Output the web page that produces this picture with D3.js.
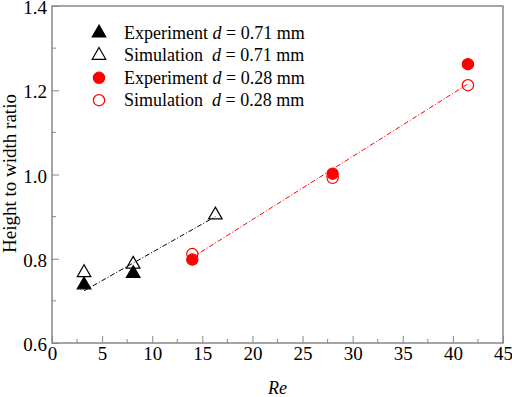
<!DOCTYPE html>
<html>
<head>
<meta charset="utf-8">
<script src="https://cdn.jsdelivr.net/npm/d3@7"></script>
<style>
  body { margin: 0; background: #fff; }
  svg text { font-family: "Liberation Serif", "DejaVu Serif", serif; }
</style>
</head>
<body>
<div id="chart"></div>
<script>
// data
var expBigRe = [3.2, 8.1];
var expBigVal = [0.738, 0.765];
var simBigRe = [3.2, 8.1, 16.3];
var simBigVal = [0.767, 0.787, 0.904];
var expSmallRe = [14, 28, 41.5];
var expSmallVal = [0.798, 1.002, 1.262];
var simSmallRe = [14, 28, 41.5];
var simSmallVal = [0.811, 0.992, 1.212];
// fitted lines (end points)
var fitBigRe = [3.2, 16.3];
var fitBigVal = [0.724, 0.900];
var fitSmallRe = [14, 41.5];
var fitSmallVal = [0.803, 1.215];

var xTicks = [0, 5, 10, 15, 20, 25, 30, 35, 40, 45];
var yTicks = [0.6, 0.8, 1.0, 1.2, 1.4];

var legendLabels = [
  ["Experiment ", "d", " = 0.71 mm"],
  ["Simulation  ", "d", " = 0.71 mm"],
  ["Experiment ", "d", " = 0.28 mm"],
  ["Simulation  ", "d", " = 0.28 mm"]
];

var width = 512, height = 397;
var margin = {top: 6, right: 9, bottom: 54, left: 52};
var w = width - margin.left - margin.right;
var h = height - margin.top - margin.bottom;
var serif = "'Liberation Serif', 'DejaVu Serif', serif";

var svg = d3.select("#chart").append("svg")
  .attr("width", width)
  .attr("height", height);

var g = svg.append("g")
  .attr("transform", "translate(" + margin.left + "," + margin.top + ")");

var x = d3.scaleLinear().domain([0, 45]).range([0, w]);
var y = d3.scaleLinear().domain([0.6, 1.4]).range([h, 0]);

var axisColor = "#888";

// frame
g.append("rect")
  .attr("x", 0).attr("y", 0)
  .attr("width", w).attr("height", h)
  .attr("fill", "none")
  .attr("stroke", axisColor)
  .attr("stroke-width", 1.5);

// minor ticks
var xMinor = d3.range(2.5, 45, 5);
var yMinor = [0.7, 0.9, 1.1, 1.3];

g.selectAll(".xminor").data(xMinor).enter().append("line")
  .attr("x1", function(d) { return x(d); }).attr("x2", function(d) { return x(d); })
  .attr("y1", h).attr("y2", h - 4)
  .attr("stroke", axisColor).attr("stroke-width", 1);

g.selectAll(".yminor").data(yMinor).enter().append("line")
  .attr("x1", 0).attr("x2", 4)
  .attr("y1", function(d) { return y(d); }).attr("y2", function(d) { return y(d); })
  .attr("stroke", axisColor).attr("stroke-width", 1);

// axes with inward ticks
var xAxis = g.append("g")
  .attr("transform", "translate(0," + h + ")")
  .call(d3.axisBottom(x).tickValues(xTicks).tickSize(-7).tickPadding(3).tickFormat(d3.format("d")));

var yAxis = g.append("g")
  .call(d3.axisLeft(y).tickValues(yTicks).tickSize(-7).tickPadding(5).tickFormat(d3.format(".1f")));

[xAxis, yAxis].forEach(function(a) {
  a.attr("font-family", serif);
  a.select(".domain").remove();
  a.selectAll(".tick line").attr("stroke", axisColor).attr("stroke-width", 1);
  a.selectAll(".tick text")
    .attr("fill", "#000")
    .attr("font-size", "19px");
});
yAxis.selectAll(".tick text").attr("dy", "0.4em");

// axis titles
svg.append("text")
  .attr("x", margin.left + x(22.5))
  .attr("y", 394)
  .attr("text-anchor", "middle")
  .attr("font-size", "18px")
  .attr("font-style", "italic")
  .text("Re");

svg.append("text")
  .attr("transform", "translate(16," + (margin.top + h / 2 - 1) + ") rotate(-90)")
  .attr("text-anchor", "middle")
  .attr("font-size", "19px")
  .text("Height to width ratio");

// fit lines
var line = d3.line()
  .x(function(d) { return x(d[0]); })
  .y(function(d) { return y(d[1]); });

g.append("path")
  .datum(d3.zip(fitBigRe, fitBigVal))
  .attr("d", line)
  .attr("fill", "none")
  .attr("stroke", "#000")
  .attr("stroke-width", 1)
  .attr("stroke-dasharray", "5,2,1,2");

g.append("path")
  .datum(d3.zip(fitSmallRe, fitSmallVal))
  .attr("d", line)
  .attr("fill", "none")
  .attr("stroke", "#ff0000")
  .attr("stroke-width", 1)
  .attr("stroke-dasharray", "5,2,1,2");

// markers
var tri = d3.symbol().type(d3.symbolTriangle).size(80);
var circ = d3.symbol().type(d3.symbolCircle).size(100);

function drawPoints(xs, ys, sym, fill, stroke) {
  g.append("g").selectAll("path")
    .data(d3.zip(xs, ys))
    .enter().append("path")
    .attr("d", sym)
    .attr("transform", function(d) { return "translate(" + x(d[0]) + "," + y(d[1]) + ")"; })
    .attr("fill", fill)
    .attr("stroke", stroke)
    .attr("stroke-width", 1.2);
}

drawPoints(expBigRe, expBigVal, tri, "#000", "#000");
drawPoints(simBigRe, simBigVal, tri, "none", "#000");
drawPoints(expSmallRe, expSmallVal, circ, "#ff0000", "#ff0000");
drawPoints(simSmallRe, simSmallVal, circ, "none", "#ff0000");

// legend
var legendSyms = [
  {sym: tri, fill: "#000", stroke: "#000"},
  {sym: tri, fill: "none", stroke: "#000"},
  {sym: circ, fill: "#ff0000", stroke: "#ff0000"},
  {sym: circ, fill: "none", stroke: "#ff0000"}
];

var legend = svg.append("g");
legendLabels.forEach(function(lab, i) {
  var yy = 33 + i * 22.4;
  legend.append("path")
    .attr("d", legendSyms[i].sym)
    .attr("transform", "translate(99," + yy + ")")
    .attr("fill", legendSyms[i].fill)
    .attr("stroke", legendSyms[i].stroke)
    .attr("stroke-width", 1.2);
  var t = legend.append("text")
    .attr("x", 124)
    .attr("y", yy + 6)
    .attr("font-size", "18px")
    .attr("xml:space", "preserve")
    .style("white-space", "pre");
  t.append("tspan").text(lab[0]);
  t.append("tspan").attr("font-style", "italic").text(lab[1]);
  t.append("tspan").text(lab[2]);
});
</script>
</body>
</html>
